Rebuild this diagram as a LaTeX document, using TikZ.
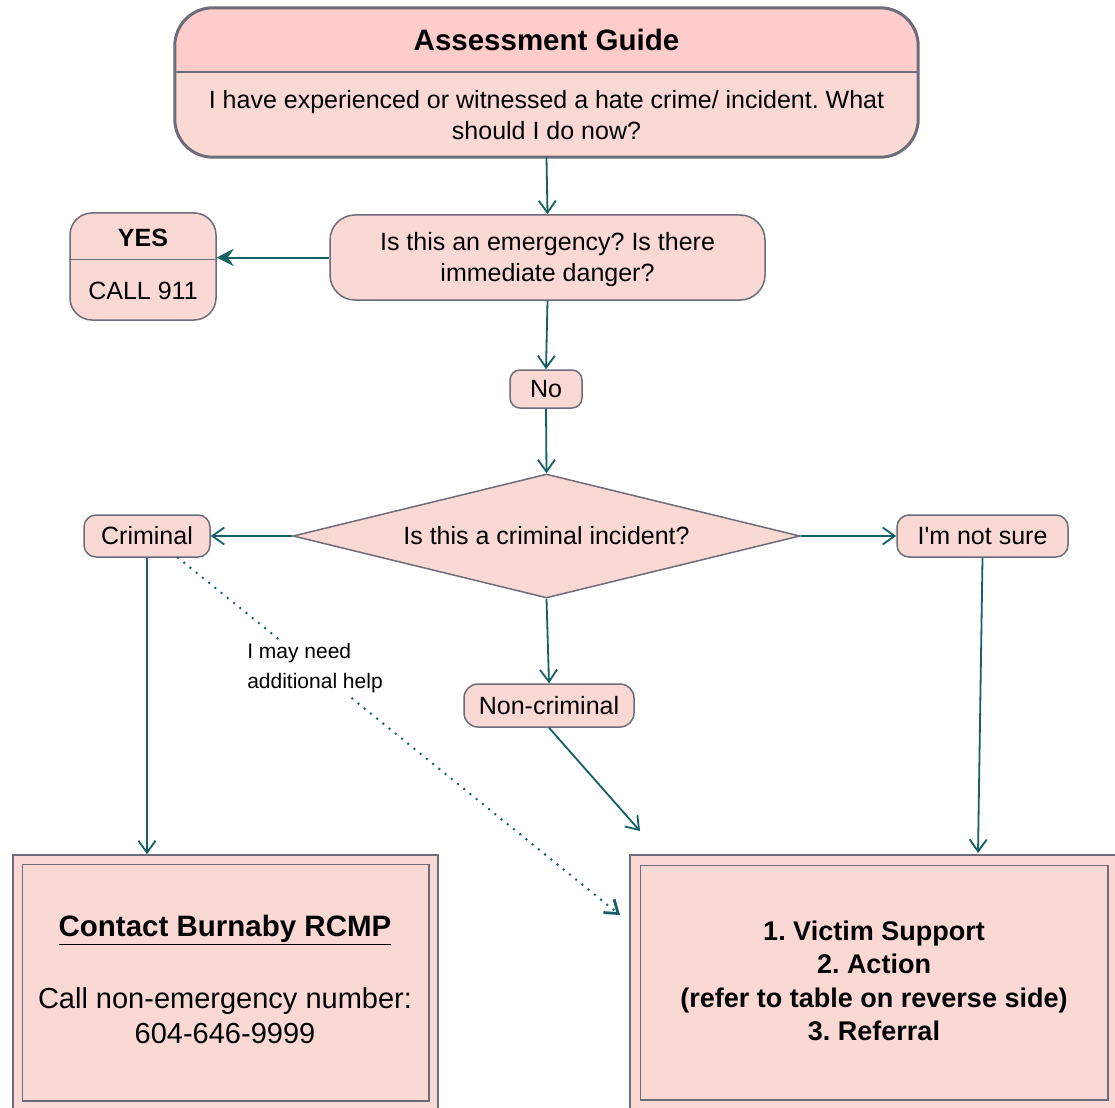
\documentclass[tikz,border=0pt]{standalone}
\usepackage{fontspec}
\setmainfont{Liberation Sans}
\usetikzlibrary{shapes.geometric,arrows.meta,calc}
\definecolor{fillc}{RGB}{250,217,213}
\definecolor{topc}{RGB}{255,204,204}
\definecolor{bordc}{RGB}{108,108,122}
\definecolor{linkc}{RGB}{20,96,102}
\frenchspacing
\begin{document}
\begin{tikzpicture}[x=1pt,y=-1pt,
  every node/.style={font=\fontsize{25}{31}\selectfont, text=black, align=center, inner sep=0pt},
  box/.style={draw=bordc, fill=fillc, line width=1.5pt},
  boldtxt/.style={font=\fontsize{25}{31}\selectfont\bfseries},
  link/.style={draw=linkc, line width=1.8pt, -{Straight Barb[length=12pt,width=17pt]}},
  solidlink/.style={draw=linkc, line width=2pt, -{Stealth[length=17pt,width=17pt,inset=6pt]}},
  dotlink/.style={link, dash pattern=on 0pt off 8pt, line cap=round, line width=2.8pt}]
\useasboundingbox (0,0) rectangle (1115,1107);

% header
\node[fill=fillc, rounded corners=38pt, minimum width=743pt, minimum height=149pt] (header) at (546.5,82.5) {};
\begin{scope}
  \clip (header.north west) rectangle ($(header.north east)+(0,64)$);
  \fill[topc, rounded corners=38pt] (header.north west) rectangle (header.south east);
\end{scope}
\draw[bordc, line width=2pt] ($(header.north west)+(0,64)$) -- ($(header.north east)+(0,64)$);
\draw[bordc, line width=3pt, rounded corners=38pt] (header.north west) rectangle (header.south east);
\node[font=\fontsize{29.5}{34}\selectfont\bfseries] (title) at (546.5,40) {Assessment Guide};
\node (question) at (546.5,115) {I have experienced or witnessed a hate crime/ incident. What\\should I do now?};

% emergency
\node[box, rounded corners=25pt, minimum width=435pt, minimum height=85pt] (emerg) at (547.5,257.5) {};
\node (emergtext) at (547.5,259.5) {Is this an emergency? Is there\\immediate danger?};

% yes
\node[box, rounded corners=22pt, minimum width=146pt, minimum height=107pt] (yes) at (143,266.5) {};
\draw[bordc, line width=1.5pt] ($(yes.north west)+(0,47)$) -- ($(yes.north east)+(0,47)$);
\node[boldtxt] (yestitle) at (143,238) {YES};
\node (call) at (143,291) {CALL 911};

% no
\node[box, rounded corners=10pt, minimum width=72pt, minimum height=38pt] (no) at (546,389) {No};

% diamond
\node[box, diamond, aspect=4.09, minimum width=507pt, minimum height=124pt] (crim) at (546.5,536) {Is this a criminal incident?};

\node[box, rounded corners=12pt, minimum width=126pt, minimum height=42pt] (criminal) at (147,536) {Criminal};
\node[box, rounded corners=12pt, minimum width=171pt, minimum height=42pt] (notsure) at (982.5,536) {I\textquotesingle m not sure};
\node[box, rounded corners=14pt, minimum width=170pt, minimum height=43pt] (noncrim) at (549,705.5) {Non-criminal};

% contact box
\node[box, minimum width=425pt, minimum height=255pt] (contact) at (225.5,982.5) {};
\draw[bordc, line width=1.5pt] ($(contact.north west)+(10,10)$) rectangle ($(contact.south east)+(-10,-10)$);
\node[font=\fontsize{29.5}{35}\selectfont\bfseries] (contacttitle) at (225,930) {\underline{Contact Burnaby RCMP}};
\node[font=\fontsize{29}{35}\selectfont] (contactnum) at (225,1015.5) {Call non-emergency number:\\604-646-9999};

% support box
\node[box, minimum width=488pt, minimum height=255pt] (support) at (874,982.5) {};
\draw[bordc, line width=1.5pt] ($(support.north west)+(11,11)$) rectangle ($(support.south east)+(-11,-11)$);
\node[font=\fontsize{27}{33.3}\selectfont\bfseries] (supporttext) at (874,981) {1. Victim Support\\2. Action\\(refer to table on reverse side)\\3. Referral};

% connectors
\draw[link] (header.south) -- (emerg.north);
\draw[solidlink] (emerg.west) -- (emerg.west -| yes.east);
\draw[link] (emerg.south) -- (no.north);
\draw[link] (no.south) -- (crim.north);
\draw[link] (crim.west) -- (criminal.east);
\draw[link] (crim.east) -- (notsure.west);
\draw[link] (crim.south) -- (noncrim.north);
\draw[link] (criminal.south) -- (criminal.south |- contact.north);
\coordinate (nctip) at (640,831);
\draw[link] (noncrim.south) -- (nctip);
\coordinate (nstip) at (978,853);
\draw[link] (notsure.south) -- (nstip);
\coordinate (dtip) at (620,915);
\draw[dotlink] ([xshift=31pt]criminal.south) -- node[pos=0.31, fill=white, inner sep=3pt, font=\fontsize{21}{30}\selectfont, align=left] (helplabel) {I may need\\additional help} (dtip);
\end{tikzpicture}
\end{document}
